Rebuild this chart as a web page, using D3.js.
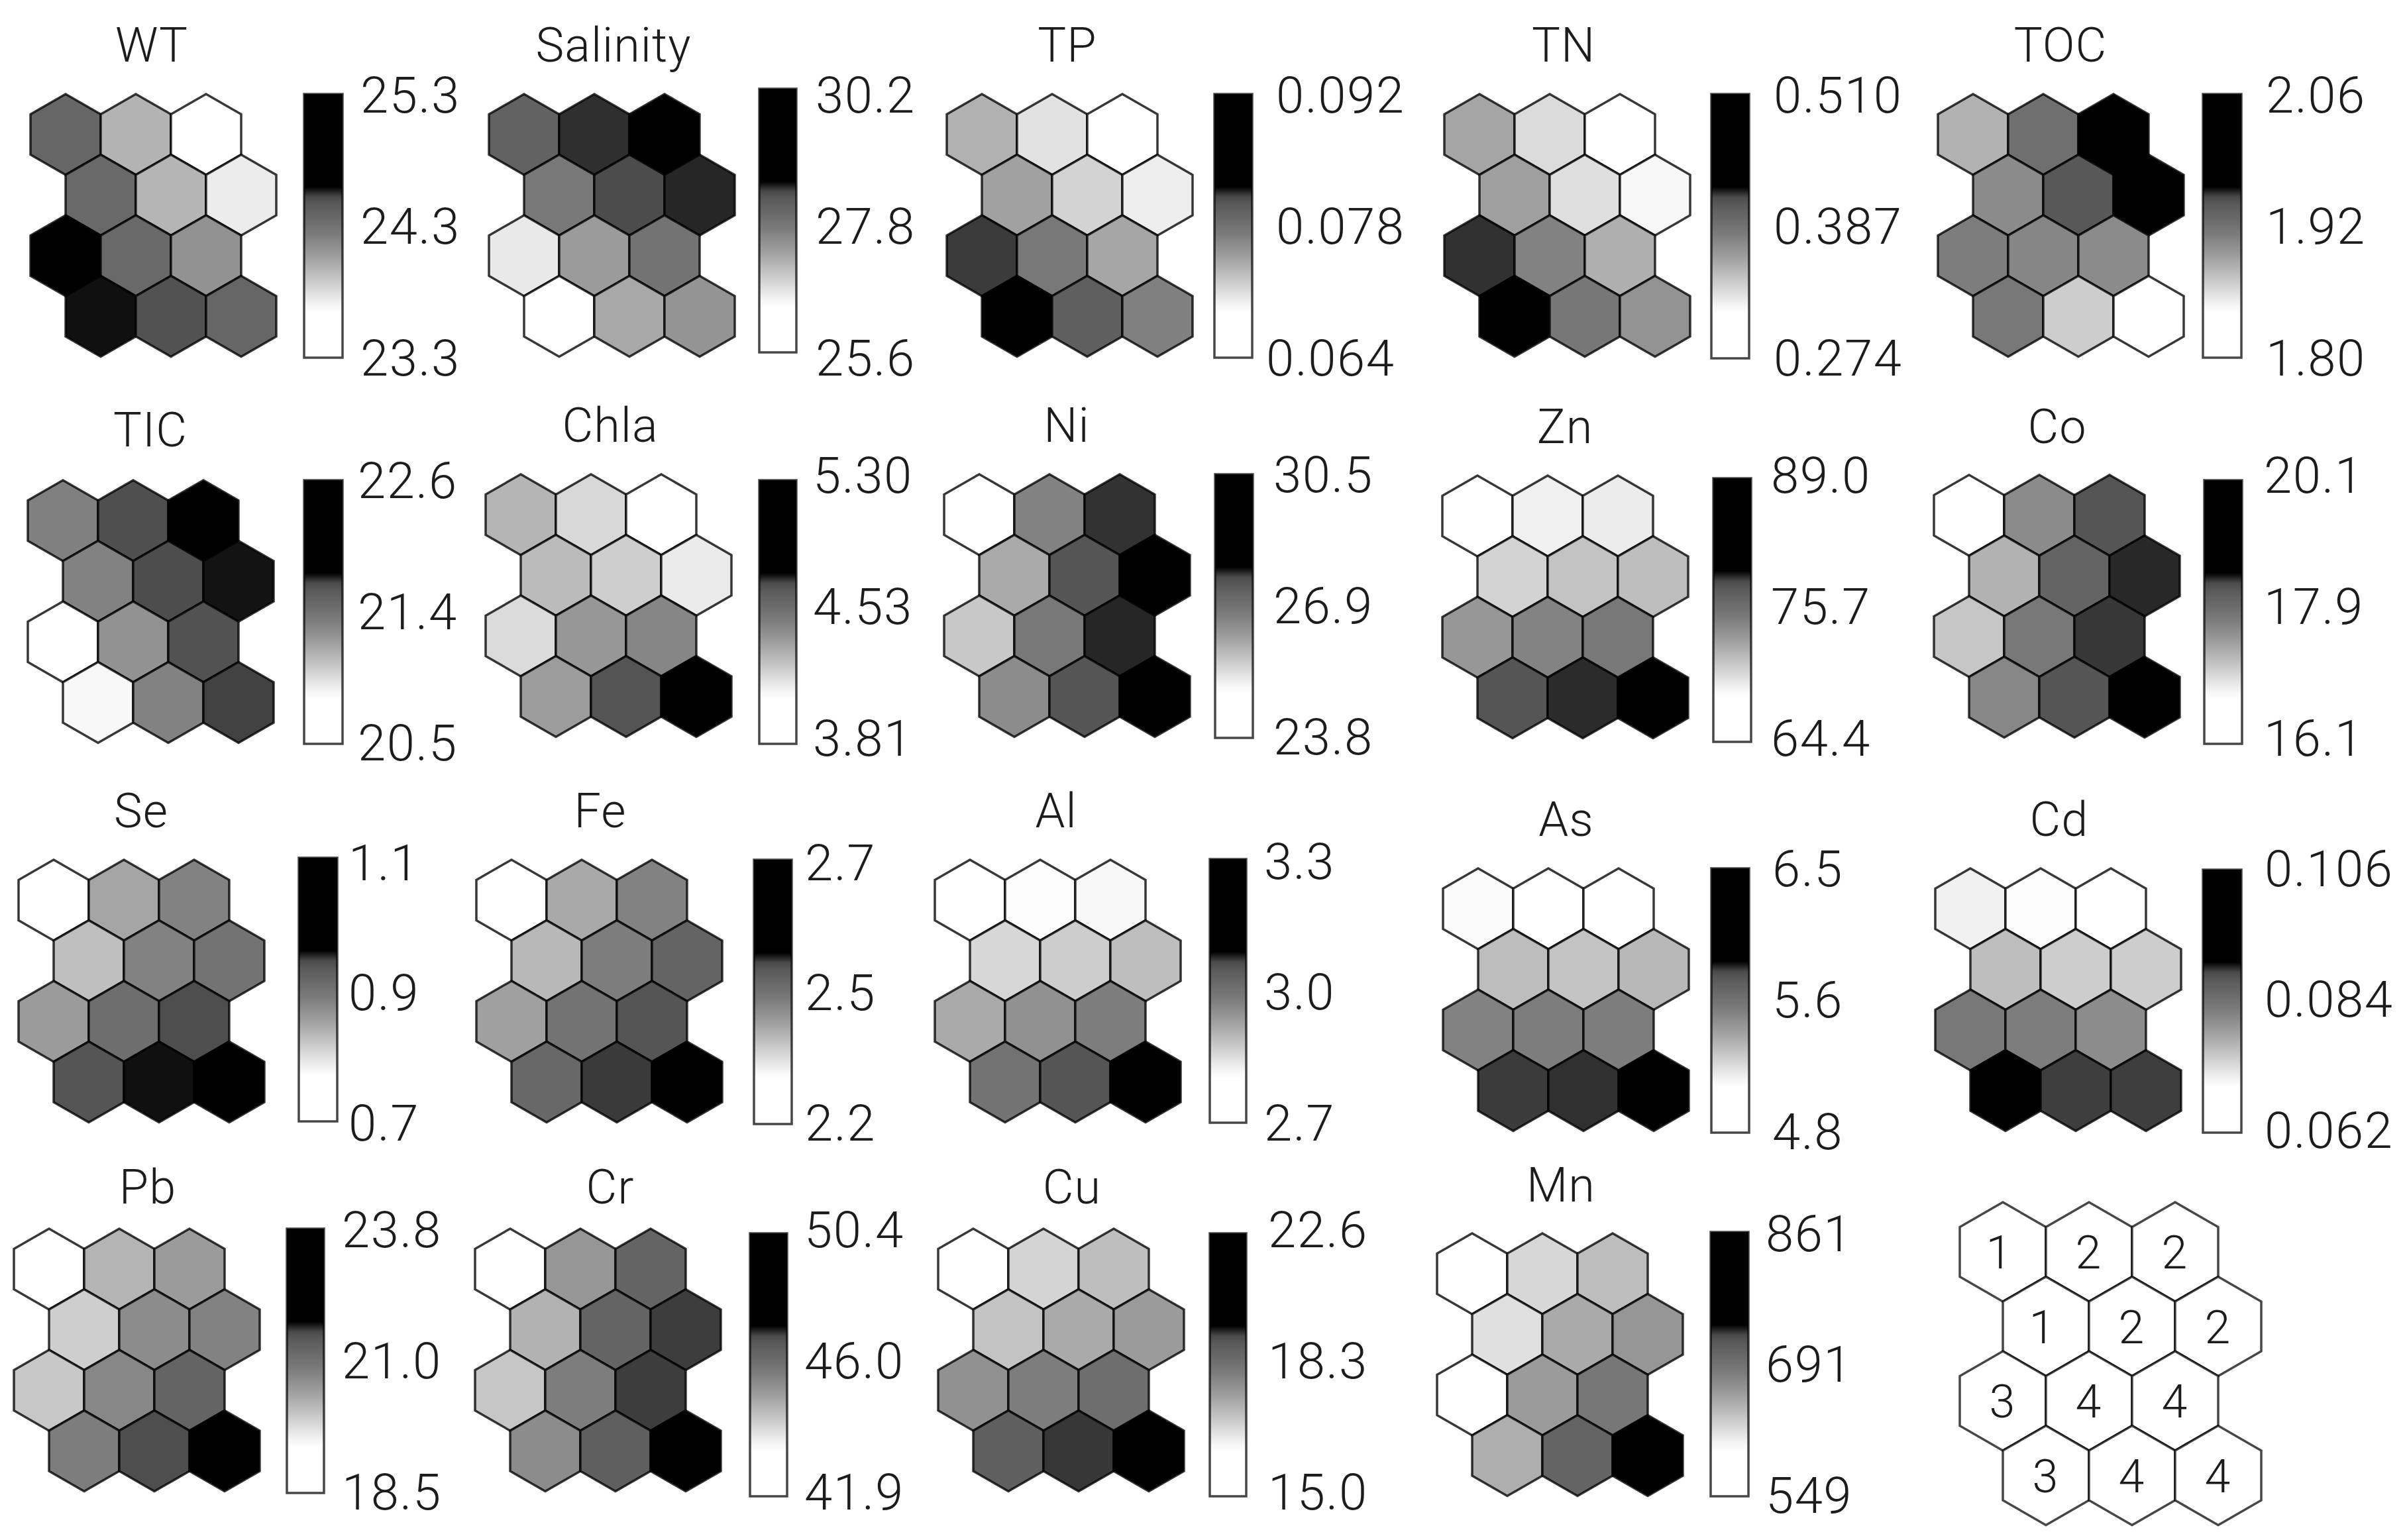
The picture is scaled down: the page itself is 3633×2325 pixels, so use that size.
<!DOCTYPE html>
<html><head><meta charset="utf-8">
<script src="https://cdn.jsdelivr.net/npm/d3@7/dist/d3.min.js"></script>
<style>html,body{margin:0;padding:0;background:#fff}svg{display:block}</style>
</head><body><svg id="c" width="3633" height="2325"></svg>
<script>
const names = ["WT","Salinity","TP","TN","TOC","TIC","Chla","Ni","Zn","Co","Se","Fe","Al","As","Cd","Pb","Cr","Cu","Mn"];
const ticks = {
  WT:["25.3","24.3","23.3"], Salinity:["30.2","27.8","25.6"], TP:["0.092","0.078","0.064"], TN:["0.510","0.387","0.274"], TOC:["2.06","1.92","1.80"],
  TIC:["22.6","21.4","20.5"], Chla:["5.30","4.53","3.81"], Ni:["30.5","26.9","23.8"], Zn:["89.0","75.7","64.4"], Co:["20.1","17.9","16.1"],
  Se:["1.1","0.9","0.7"], Fe:["2.7","2.5","2.2"], Al:["3.3","3.0","2.7"], As:["6.5","5.6","4.8"], Cd:["0.106","0.084","0.062"],
  Pb:["23.8","21.0","18.5"], Cr:["50.4","46.0","41.9"], Cu:["22.6","18.3","15.0"], Mn:["861","691","549"]
};
// SOM cell values, row by row (3 cells per row, 4 rows)
const WT       = [24.38,23.98,23.30, 24.36,23.97,23.74, 25.30,24.36,24.13, 24.58,24.49,24.38];
const Salinity = [28.14,28.47,30.20, 27.81,28.39,28.49, 26.64,27.40,27.89, 25.60,27.27,27.48];
const TP       = [0.0736,0.0707,0.0640, 0.0746,0.0716,0.0700, 0.0813,0.0774,0.0743, 0.0920,0.0798,0.0768];
const TN       = [0.361,0.334,0.274, 0.364,0.332,0.319, 0.421,0.381,0.356, 0.510,0.388,0.371];
const TOC      = [1.889,1.933,2.060, 1.912,1.952,2.060, 1.921,1.915,1.912, 1.925,1.874,1.800];
const TIC      = [21.46,21.76,22.60, 21.45,21.77,21.84, 20.50,21.37,21.75, 20.90,21.45,21.79];
const Chla     = [4.31,4.20,3.81, 4.29,4.23,4.14, 4.19,4.41,4.47, 4.39,4.69,5.30];
const Ni       = [23.80,26.84,27.97, 26.20,27.75,30.50, 25.78,27.02,28.01, 26.67,27.75,30.50];
const Zn       = [64.4,69.6,69.8, 71.1,71.9,72.2, 74.3,75.5,76.2, 78.9,79.8,89.0];
const Co       = [16.10,17.82,18.46, 17.47,18.29,18.61, 17.30,18.02,18.58, 17.86,18.46,20.10];
const Se       = [0.700,0.848,0.881, 0.826,0.881,0.899, 0.857,0.905,0.941, 0.936,0.956,1.100];
const Fe       = [2.200,2.380,2.427, 2.364,2.433,2.474, 2.390,2.449,2.495, 2.466,2.509,2.700];
const Al       = [2.700,2.807,2.815, 2.858,2.870,2.890, 2.915,2.950,2.979, 2.998,3.054,3.300];
const As       = [5.11,4.80,4.80, 5.34,5.32,5.36, 5.57,5.59,5.59, 5.85,5.86,6.50];
const Cd       = [0.0712,0.0699,0.0620, 0.0759,0.0745,0.0745, 0.0831,0.0825,0.0809, 0.1060,0.0891,0.0891];
const Pb       = [18.50,20.29,20.58, 20.00,20.77,20.90, 20.06,20.84,21.40, 20.96,21.69,23.80];
const Cr       = [41.90,45.33,46.55, 44.81,46.55,47.14, 44.45,45.85,47.14, 45.55,46.69,50.40];
const Cu       = [15.00,17.05,17.40, 17.33,17.73,17.98, 18.16,18.53,18.90, 19.28,19.71,22.60];
const Mn       = [549,631,648, 625,661,675, 549,671,700, 658,720,861];
const cellValues = {WT,Salinity,TP,TN,TOC,TIC,Chla,Ni,Zn,Co,Se,Fe,Al,As,Cd,Pb,Cr,Cu,Mn};
const clusters = [1,2,2, 1,2,2, 3,4,4, 3,4,4];

// colour ramp: share of the bar measured from its top -> grey level
const rampAt   = [0, .352, .39, .42, .53, .62, .72, .80, .83, 1];
const rampGrey = [0, 0, 74, 90, 123, 160, 207, 245, 255, 255];
const rampColor = rampGrey.map(g => d3.rgb(g,g,g).formatHex());
const shade = d3.scaleLinear().domain(rampAt).range(rampColor).clamp(true);

// page layout of each panel (not data)
const layout = {
  WT:      {hx:46,  hy:142,  bx:459,  bw:58, by:142,  bb:540,  lx:544,  ly:[145,542],  tx:229,  ty:67},
  Salinity:{hx:738, hy:142,  bx:1146, bw:56, by:134,  bb:532,  lx:1231, ly:[145,542],  tx:926,  ty:67},
  TP:      {hx:1429,hy:142,  bx:1833, bw:57, by:142,  bb:540,  lx:1926, ly:[145,542],  tx:1611, ty:67, lowDx:-15},
  TN:      {hx:2180,hy:142,  bx:2583, bw:57, by:142,  bb:541,  lx:2677, ly:[145,542],  tx:2360, ty:67},
  TOC:     {hx:2925,hy:142,  bx:3325, bw:58, by:142,  bb:540,  lx:3420, ly:[145,542],  tx:3110, ty:67},
  TIC:     {hx:42,  hy:725,  bx:459,  bw:58, by:725,  bb:1123, lx:540,  ly:[727,1123], tx:227,  ty:648},
  Chla:    {hx:733, hy:716,  bx:1146, bw:56, by:725,  bb:1123, lx:1227, ly:[719,1116], tx:921,  ty:641},
  Ni:      {hx:1425,hy:716,  bx:1834, bw:57, by:716,  bb:1114, lx:1922, ly:[718,1114], tx:1610, ty:641},
  Zn:      {hx:2177,hy:718,  bx:2586, bw:57, by:722,  bb:1120, lx:2673, ly:[719,1116], tx:2362, ty:643},
  Co:      {hx:2919,hy:717,  bx:3327, bw:57, by:725,  bb:1123, lx:3417, ly:[719,1116], tx:3105, ty:643},
  Se:      {hx:28,  hy:1298, bx:451,  bw:58, by:1295, bb:1693, lx:526,  ly:[1304,1697],tx:213,  ty:1223},
  Fe:      {hx:719, hy:1298, bx:1138, bw:57, by:1298, bb:1697, lx:1215, ly:[1304,1697],tx:906,  ty:1223},
  Al:      {hx:1411,hy:1298, bx:1826, bw:55, by:1297, bb:1695, lx:1908, ly:[1302,1697],tx:1594, ty:1223},
  As:      {hx:2178,hy:1311, bx:2583, bw:57, by:1311, bb:1710, lx:2675, ly:[1313,1710],tx:2364, ty:1236},
  Cd:      {hx:2921,hy:1311, bx:3325, bw:58, by:1313, bb:1710, lx:3418, ly:[1313,1708],tx:3108, ty:1236},
  Pb:      {hx:21,  hy:1855, bx:433,  bw:56, by:1855, bb:2254, lx:516,  ly:[1858,2254],tx:223,  ty:1791},
  Cr:      {hx:717, hy:1855, bx:1132, bw:56, by:1862, bb:2259, lx:1214, ly:[1858,2254],tx:921,  ty:1791},
  Cu:      {hx:1416,hy:1855, bx:1826, bw:55, by:1862, bb:2259, lx:1914, ly:[1858,2254],tx:1618, ty:1791},
  Mn:      {hx:2169,hy:1862, bx:2582, bw:57, by:1860, bb:2259, lx:2665, ly:[1864,2259],tx:2356, ty:1788}
};
const FONT = "Roboto, 'Liberation Sans', Arial, sans-serif";
const INK = "#1c1c1c";
const svg = d3.select("#c");
svg.append("rect").attr("width",3633).attr("height",2325).attr("fill","#fff");

const grad = svg.append("defs").append("linearGradient").attr("id","ramp")
  .attr("x1",0).attr("x2",0).attr("y1",0).attr("y2",1);
grad.selectAll("stop").data(rampAt).join("stop")
  .attr("offset",d=>d).attr("stop-color",(d,i)=>rampColor[i]);

function hexPath(w,h){
  const pts=[[0,-h/2],[w/2,-h/4],[w/2,h/4],[0,h/2],[-w/2,h/4],[-w/2,-h/4]];
  return d3.line()(pts)+"Z";
}
function hexGrid(x0,y0,w,h){
  const col=d3.scaleLinear().domain([0,1]).range([x0+w/2,x0+w/2+w]);
  const row=d3.scaleLinear().domain([0,1]).range([y0+h/2,y0+h/2+h*0.75]);
  const cx=i=>col(i%3+(Math.floor(i/3)%2)/2), cy=i=>row(Math.floor(i/3));
  return {cx,cy,path:hexPath(w,h)};
}

names.forEach(name=>{
  const L=layout[name], labels=ticks[name], vals=cellValues[name];
  const hi=+labels[0], lo=+labels[2];
  const frac=d3.scaleLinear().domain([hi,lo]).range([0,1]);
  const g=svg.append("g").attr("class","panel");
  const grid=hexGrid(L.hx,L.hy,106,122);
  g.selectAll("path.cell").data(vals).join("path").attr("class","cell")
    .attr("d",grid.path)
    .attr("transform",(d,i)=>`translate(${grid.cx(i)},${grid.cy(i)})`)
    .attr("fill",d=>shade(frac(d)))
    .attr("stroke","#000").attr("stroke-opacity",.78).attr("stroke-width",3.5).attr("stroke-linejoin","miter");
  g.append("rect").attr("x",L.bx).attr("y",L.by).attr("width",L.bw).attr("height",L.bb-L.by)
    .attr("fill","url(#ramp)").attr("stroke","#000").attr("stroke-opacity",.72).attr("stroke-width",3.5);
  const y=d3.scalePoint().domain(labels).range(L.ly);
  const ax=g.append("g").attr("transform",`translate(${L.lx},0)`)
    .call(d3.axisRight(y).tickSize(0).tickPadding(0));
  ax.select(".domain").remove();
  ax.selectAll("text").attr("font-family",FONT).attr("font-weight",300).attr("font-size",76).attr("fill",INK)
    .attr("letter-spacing",1.5).attr("dx",(d,i)=>i===2&&L.lowDx?L.lowDx:0);
  g.append("text").attr("x",L.tx).attr("y",L.ty+26).attr("text-anchor","middle")
    .attr("font-family",FONT).attr("font-weight",300).attr("font-size",72).attr("letter-spacing",1).attr("fill",INK).text(name);
});

// cluster key
{
  const grid=hexGrid(2958,1815,130,150);
  const k=svg.append("g").attr("class","key");
  k.selectAll("path").data(clusters).join("path").attr("d",grid.path)
    .attr("transform",(d,i)=>`translate(${grid.cx(i)},${grid.cy(i)})`)
    .attr("fill","#fff").attr("stroke","#000").attr("stroke-opacity",.72).attr("stroke-width",3.5);
  k.selectAll("text").data(clusters).join("text")
    .attr("x",(d,i)=>grid.cx(i)+(d===1?-6:-1)).attr("y",(d,i)=>grid.cy(i)+25)
    .attr("text-anchor","middle").attr("font-family",FONT).attr("font-weight",300).attr("font-size",70).attr("fill",INK).text(d=>d);
}
</script></body></html>
